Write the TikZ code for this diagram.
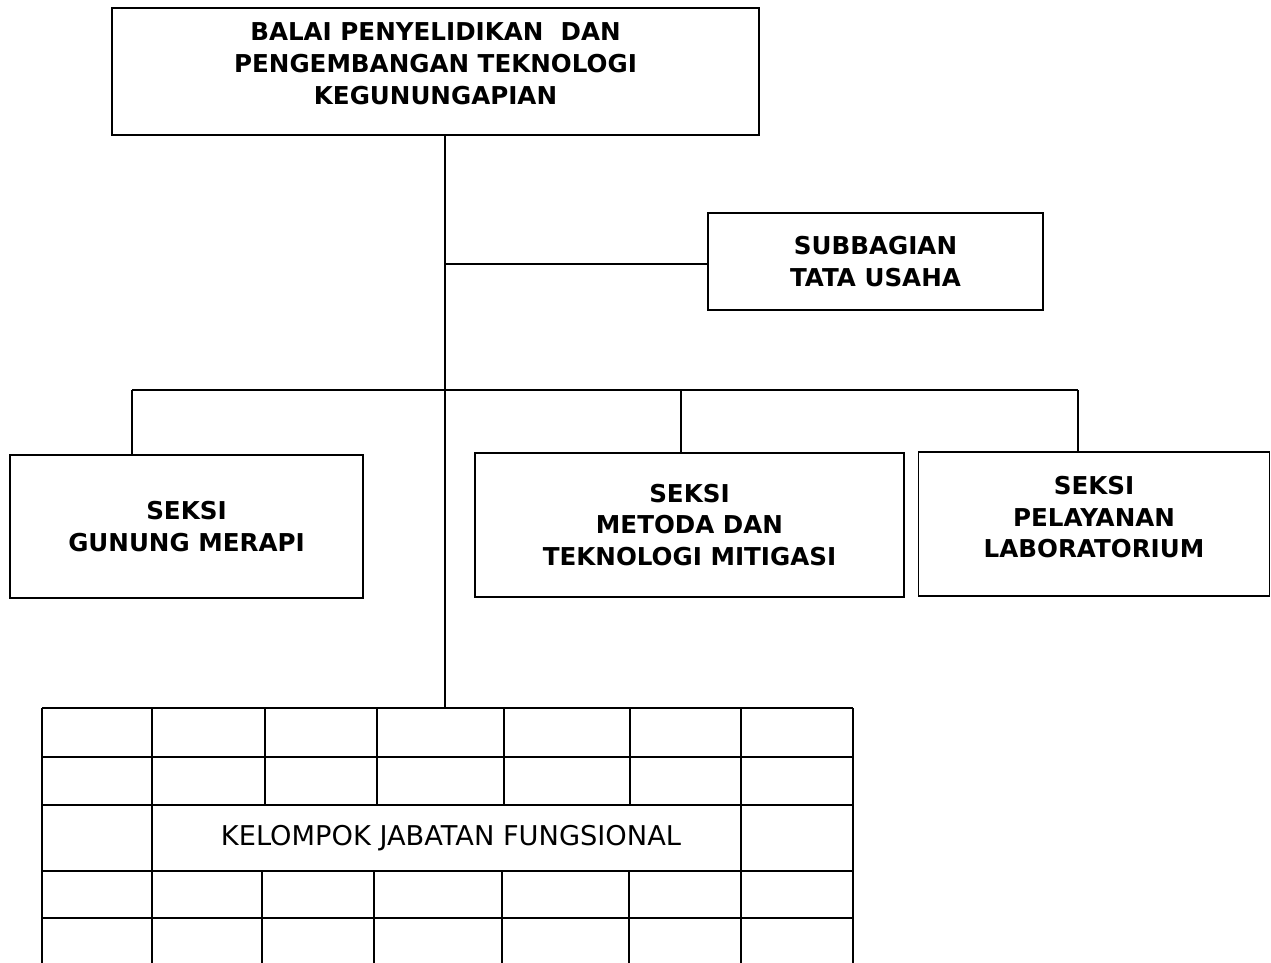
\documentclass[tikz,border=0pt]{standalone}
\usepackage{fontspec}
\setmainfont{DejaVu Sans}
\usepackage{tikz}

\tikzset{
  unit/.style={draw, line width=1pt, align=center, inner sep=0pt,
    font=\fontsize{14}{18}\selectfont\bfseries},
  grid/.style={line width=0.9pt},
}

\begin{document}
\begin{tikzpicture}[x=0.02cm, y=-0.02cm, line width=1pt]
\useasboundingbox (0,0) rectangle (1271,963);

\node [unit, minimum width=647*0.02cm, minimum height=127*0.02cm, text depth=9pt] (balai) at (435.5,71.5)
  {BALAI PENYELIDIKAN\ \ DAN\\PENGEMBANGAN TEKNOLOGI\\KEGUNUNGAPIAN};
\node [unit, minimum width=335*0.02cm, minimum height=97*0.02cm] (tu) at (875.5,261.5)
  {SUBBAGIAN\\TATA USAHA};
\node [unit, minimum width=353*0.02cm, minimum height=143*0.02cm] (merapi) at (186.5,526.5)
  {SEKSI\\GUNUNG MERAPI};
\node [unit, minimum width=429*0.02cm, minimum height=144*0.02cm] (metoda) at (689.5,525)
  {SEKSI\\METODA DAN\\TEKNOLOGI MITIGASI};
\node [unit, minimum width=351*0.02cm, minimum height=144*0.02cm, text depth=8pt] (lab) at (1094,524)
  {SEKSI\\PELAYANAN\\LABORATORIUM};

% junctions
\coordinate (jtu) at (445,264);
\coordinate (jbus) at (445,390);
\coordinate (gtop) at (445,708);
\coordinate (b1) at (132,390);
\coordinate (b2) at (681,390);
\coordinate (b3) at (1078,390);

\draw (balai.south -| jtu) -- (gtop);
\draw (jtu) -- (tu.west |- jtu);
\draw (b1) -- (b3);
\draw (b1) -- (b1 |- merapi.north);
\draw (b2) -- (b2 |- metoda.north);
\draw (b3) -- (b3 |- lab.north);

% kelompok jabatan fungsional
\foreach \y in {708,757,805,871,918}
  \draw [grid] (42,\y) -- (853,\y);
\foreach \x in {42,152,741,853}
  \draw [grid] (\x,708) -- (\x,963);
\foreach \x in {265,377,504,630}
  \draw [grid] (\x,708) -- (\x,805);
\foreach \x in {262,374,502,629}
  \draw [grid] (\x,871) -- (\x,963);
\node [font=\fontsize{15.5}{18}\selectfont] (kjf) at (451,838) {KELOMPOK JABATAN FUNGSIONAL};
\end{tikzpicture}
\end{document}
